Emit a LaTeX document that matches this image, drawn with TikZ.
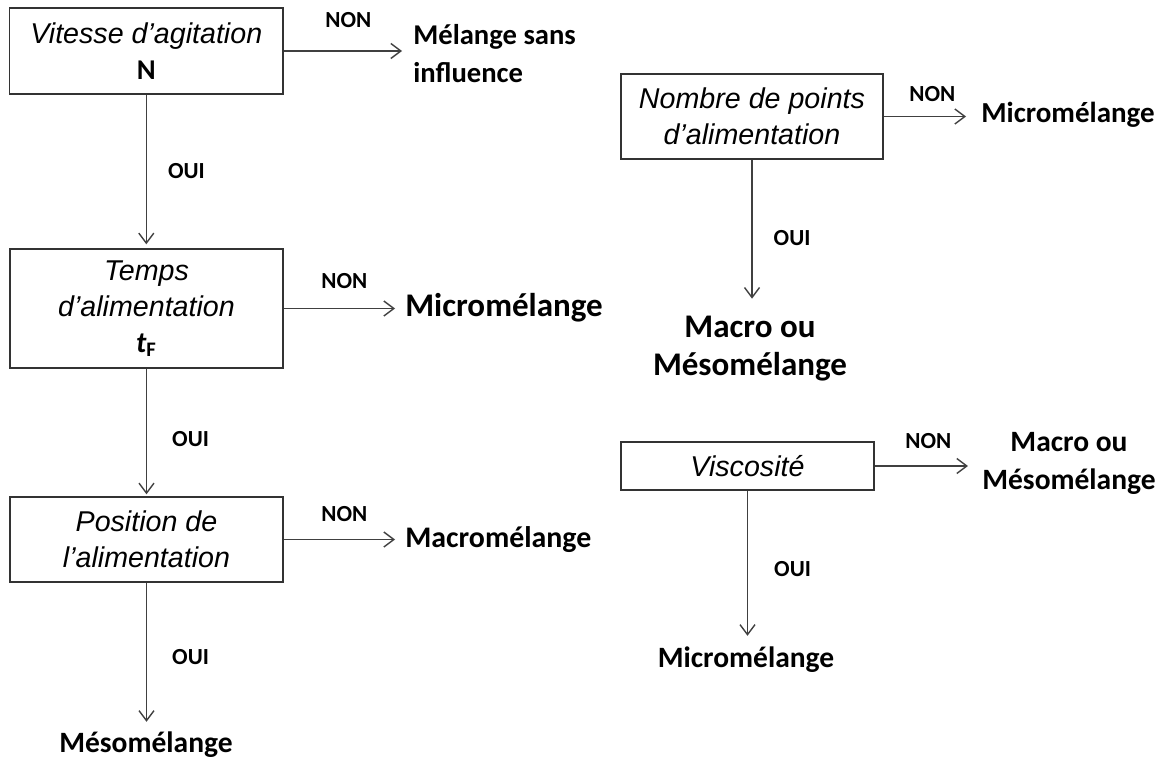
\documentclass[tikz,border=0pt]{standalone}
\usepackage{fontspec}
\newfontfamily\boxfont{Liberation Sans}
\newfontfamily\resfont{Carlito}
\usetikzlibrary{arrows.meta,positioning}

\begin{document}
\begin{tikzpicture}[x=0.02cm, y=-0.02cm,
        question/.style={draw=black!80, line width=0.8pt, inner sep=0pt, align=center,
            font=\boxfont\itshape\fontsize{16.3}{20.5}\selectfont},
        result/.style={inner sep=0pt, align=center,
            font=\resfont\bfseries\fontsize{16.8}{21.3}\selectfont},
        bigresult/.style={result, font=\resfont\bfseries\fontsize{18.8}{21.6}\selectfont},
        answer/.style={inner sep=0pt, font=\resfont\bfseries\fontsize{13.1}{15}\selectfont},
        arr/.style={-{Straight Barb[length=0.2cm, width=0.3cm]}, draw=black!75, line width=0.8pt}]
    \useasboundingbox (0,0) rectangle (1165,760);

    % left column
    \node[question, minimum width=5.47cm, minimum height=1.72cm] (speed) at (146.3,51)
        {Vitesse d’agitation\\{\resfont\upshape\bfseries N}};
    \node[question, minimum width=5.46cm, minimum height=2.38cm] (feedtime) at (146.5,308.5)
        {Temps\\d’alimentation\\{\resfont\bfseries\fontsize{16.8}{20.5}\selectfont t\textsubscript{\upshape F}}};
    \node[question, minimum width=5.46cm, minimum height=1.70cm] (feedpos) at (146.5,539.5)
        {Position de\\l’alimentation};
    \node[result, anchor=west, align=left, font=\resfont\bfseries\fontsize{16.3}{21.6}\selectfont]
        (speedno) at (413,54) {Mélange sans\\influence};
    \node[bigresult, anchor=west] (timeno) at (405,308) {Micromélange};
    \node[result, anchor=west, font=\resfont\bfseries\fontsize{17}{21.3}\selectfont]
        (posno) at (405,540) {Macromélange};
    \node[result] (posyes) at (146,745) {Mésomélange};

    % right column
    \node[question, minimum width=5.24cm, minimum height=1.70cm] (feedpoints) at (752,116.5)
        {Nombre de points\\d’alimentation};
    \node[question, minimum width=5.06cm, minimum height=0.96cm] (viscosity) at (747.5,466)
        {Viscosité};
    \node[result, anchor=west, font=\resfont\bfseries\fontsize{16.5}{21.3}\selectfont]
        (pointsno) at (981,115) {Micromélange};
    \node[bigresult] (pointsyes) at (750,349) {Macro ou\\Mésomélange};
    \node[result] (viscno) at (1069,463.5) {Macro ou\\Mésomélange};
    \node[result] (viscyes) at (746,660) {Micromélange};

    \draw[arr, shorten >=0.22cm] (speed.east) -- (speed.east -| speedno.west)
        node[answer, midway, above=0.45cm] {NON};
    \draw[arr, shorten >=0.2cm] (feedtime.east) -- (feedtime.east -| timeno.west)
        node[answer, midway, above=0.39cm] {NON};
    \draw[arr, shorten >=0.2cm] (feedpos.east) -- (feedpos.east -| posno.west)
        node[answer, midway, above=0.35cm] {NON};
    \draw[arr, shorten >=0.3cm] (feedpoints.east) -- (feedpoints.east -| pointsno.west)
        node[answer, midway, above=0.29cm] {NON};
    \draw[arr, shorten >=0.28cm] (viscosity.east) -- (viscosity.east -| viscno.west)
        node[answer, midway, above=0.33cm] {NON};

    \draw[arr, shorten >=0.08cm] (speed.south) -- (speed.south |- feedtime.north)
        node[answer, midway, right=0.42cm] {OUI};
    \draw[arr, shorten >=0.04cm] (feedtime.south) -- (feedtime.south |- feedpos.north)
        node[answer, pos=0.55, right=0.5cm] {OUI};
    \draw[arr, shorten >=0.2cm] (feedpos.south) -- (feedpos.south |- posyes.north)
        node[answer, midway, right=0.5cm] {OUI};
    \draw[arr, shorten >=0.35cm] (feedpoints.south) -- (feedpoints.south |- pointsyes.north)
        node[answer, midway, right=0.42cm] {OUI};
    \draw[arr, shorten >=0.22cm] (viscosity.south) -- (viscosity.south |- viscyes.north)
        node[answer, midway, right=0.52cm] {OUI};
\end{tikzpicture}
\end{document}
